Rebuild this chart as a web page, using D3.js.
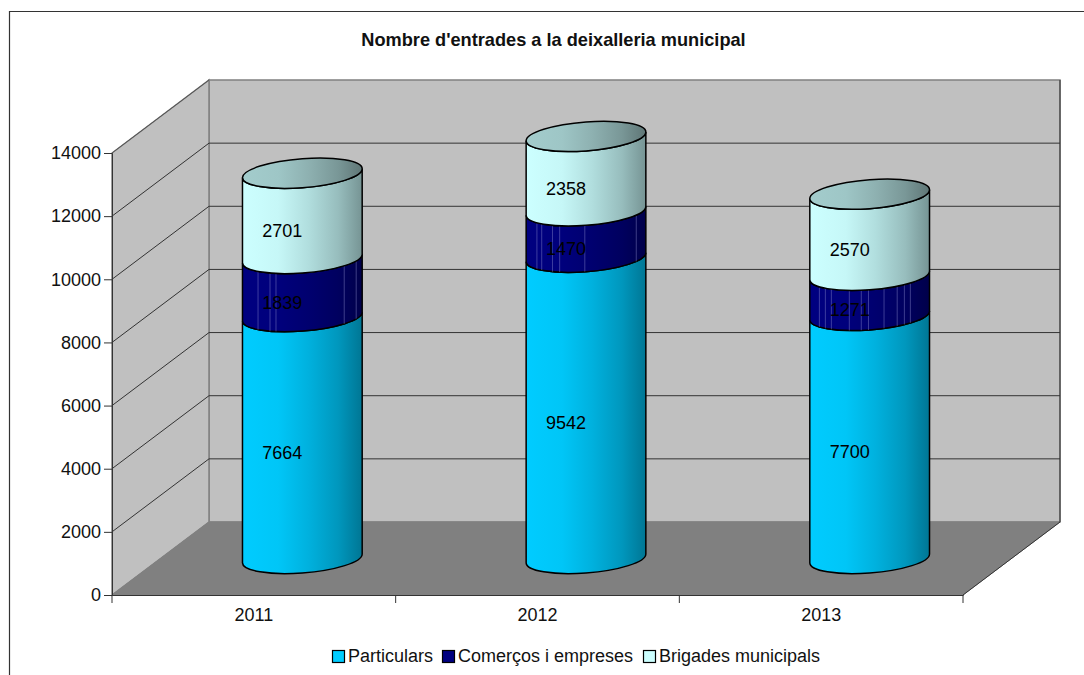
<!DOCTYPE html>
<html>
<head>
<meta charset="utf-8">
<script src="https://cdn.jsdelivr.net/npm/d3@7"></script>
<style>
  html, body { margin: 0; padding: 0; background: #fff; overflow: hidden; }
  svg { display: block; font-family: "Liberation Sans", Arial, sans-serif; }
</style>
</head>
<body>
<svg id="chart" width="1084" height="675"></svg>
<script>
const years = ['2011', '2012', '2013']
const particulars = [7664, 9542, 7700]
const comercos = [1839, 1470, 1271]
const brigades = [2701, 2358, 2570]
const y_ticks = [0, 2000, 4000, 6000, 8000, 10000, 12000, 14000]
const series_names = ['Particulars', 'Comerços i empreses', 'Brigades municipals']
const series_colors = ['#00ccff', '#000080', '#ccffff']
const title = "Nombre d'entrades a la deixalleria municipal"

// light streaks in the navy band of each cylinder, as a share of its width
const streaks = [
  [0.13, 0.23, 0.28, 0.85, 0.95],
  [0.09, 0.13, 0.22, 0.28, 0.49, 0.92],
  [0.08, 0.13, 0.18, 0.33, 0.43, 0.49, 0.62, 0.73, 0.79, 0.84]
]

const svg = d3.select('#chart')
const depth = { x: 97, y: -73 }
const x = d3.scaleBand().domain(years).range([112, 963])
const y = d3.scaleLinear().domain([0, 14000]).range([595, 153])

const rows = years.map((year, i) => ({
  year: year,
  [series_names[0]]: particulars[i],
  [series_names[1]]: comercos[i],
  [series_names[2]]: brigades[i]
}))
const stacked = d3.stack().keys(series_names)(rows)

const shade = function (color, k) {
  const c = d3.rgb(color)
  return d3.rgb(c.r * k, c.g * k, c.b * k).formatHex()
}

const addGradient = function (defs, id, color) {
  const stops = [[0, 1], [0.3, 0.97], [0.55, 0.87], [0.8, 0.74], [1, 0.58]]
  defs.append('linearGradient').attr('id', id)
    .selectAll('stop').data(stops).join('stop')
    .attr('offset', d => d[0])
    .attr('stop-color', d => shade(color, d[1]))
}

const defs = svg.append('defs')
series_colors.forEach((color, i) => addGradient(defs, 'body' + i, color))
addGradient(defs, 'lid', shade('#ccffff', 0.8))

// outer frame, runs off the page on the right and at the bottom
svg.append('path')
  .attr('d', 'M9.5,675V11.5H1084')
  .attr('fill', 'none').attr('stroke', '#333').attr('stroke-width', 1.2)

// walls and floor
const x0 = x.range()[0]
const x1 = x.range()[1]
const y0 = y(0)
const yMax = y(14000)
const poly = d => d3.line()(d) + 'Z'

svg.append('path')
  .attr('d', poly([[x0 + depth.x, y0 + depth.y], [x0 + depth.x, yMax + depth.y], [x1 + depth.x, yMax + depth.y], [x1 + depth.x, y0 + depth.y]]))
  .attr('fill', '#c0c0c0').attr('stroke', '#808080').attr('stroke-width', 1.5)
svg.append('path')
  .attr('d', poly([[x0, y0], [x0, yMax], [x0 + depth.x, yMax + depth.y], [x0 + depth.x, y0 + depth.y]]))
  .attr('fill', '#c0c0c0').attr('stroke', '#808080').attr('stroke-width', 1.5)
svg.append('path')
  .attr('d', poly([[x0, y0], [x1, y0], [x1 + depth.x, y0 + depth.y], [x0 + depth.x, y0 + depth.y]]))
  .attr('fill', '#808080').attr('stroke', '#808080')

// grid on the side wall and the back wall
svg.append('g').selectAll('path').data(y_ticks.slice(1, -1)).join('path')
  .attr('d', d => d3.line()([[x0, y(d)], [x0 + depth.x, y(d) + depth.y], [x1 + depth.x, y(d) + depth.y]]))
  .attr('fill', 'none').attr('stroke', '#333').attr('stroke-width', 1)
svg.append('path')
  .attr('d', d3.line()([[x0, yMax], [x0 + depth.x, yMax + depth.y]]))
  .attr('stroke', '#555').attr('stroke-width', 1)
svg.append('path')
  .attr('d', d3.line()([[x1, y0], [x1 + depth.x, y0 + depth.y], [x1 + depth.x, yMax + depth.y]]))
  .attr('fill', 'none').attr('stroke', '#333').attr('stroke-width', 1)

// axes
const yAxis = svg.append('g')
  .attr('transform', `translate(${x0},0)`)
  .call(d3.axisLeft(y).tickValues(y_ticks).tickFormat(d3.format('d')).tickSize(8).tickPadding(3))
const xAxis = svg.append('g')
  .attr('transform', `translate(0,${y0})`)
  .call(d3.axisBottom(x).tickSize(0).tickPadding(13))
xAxis.selectAll('.tick').select('line').remove()
svg.append('g').selectAll('line').data(years.map(d => x(d)).concat([x1])).join('line')
  .attr('x1', d => d).attr('x2', d => d)
  .attr('y1', y0).attr('y2', y0 + 8)
  .attr('stroke', '#333')
for (const axis of [yAxis, xAxis]) {
  axis.attr('font-family', null).attr('font-size', null)
  axis.selectAll('text').attr('font-size', 18).attr('fill', '#111')
  axis.selectAll('.domain, .tick line').attr('stroke', '#333')
}

// cylinders
const rx = x.bandwidth() * 0.211
const ry = 14.5
const mid = { x: depth.x / 2, y: depth.y / 2 }

const body = function (top, bottom) {
  return `M${-rx},${top}A${rx},${ry} 0 0 0 ${rx},${top}L${rx},${bottom}A${rx},${ry} 0 0 1 ${-rx},${bottom}Z`
}

years.forEach((year, i) => {
  const cx = x(year) + x.bandwidth() / 2 + mid.x
  const g = svg.append('g').attr('transform', `translate(${cx},${mid.y}) skewY(-4.2)`)
  stacked.forEach((layer, s) => {
    const top = y(layer[i][1])
    const bottom = y(layer[i][0])
    g.append('path')
      .attr('d', body(top, bottom))
      .attr('fill', `url(#body${s})`)
      .attr('stroke', '#000').attr('stroke-width', 1.5)
    if (s == 1) {
      defs.append('clipPath').attr('id', 'band' + i)
        .append('path').attr('d', body(top, bottom))
      g.append('g').attr('clip-path', `url(#band${i})`)
        .selectAll('line').data(streaks[i]).join('line')
        .attr('x1', d => -rx + d * rx * 2).attr('x2', d => -rx + d * rx * 2)
        .attr('y1', top - ry).attr('y2', bottom + ry)
        .attr('stroke', '#8f8fd0').attr('stroke-width', 0.7).attr('stroke-opacity', 0.6)
    }
  })
  g.append('ellipse')
    .attr('cx', 0).attr('cy', y(stacked[2][i][1]))
    .attr('rx', rx).attr('ry', ry)
    .attr('fill', 'url(#lid)')
    .attr('stroke', '#000').attr('stroke-width', 1.5)

  // value labels sit on the front of the cylinder, left of its middle
  stacked.forEach(layer => {
    svg.append('text')
      .attr('x', cx - 20)
      .attr('y', y((layer[i][0] + layer[i][1]) / 2) + mid.y + ry + 6.5)
      .attr('text-anchor', 'middle')
      .attr('font-size', 18)
      .attr('fill', '#000')
      .text(layer[i][1] - layer[i][0])
  })
})

// title
svg.append('text')
  .attr('x', 553.5).attr('y', 46)
  .attr('text-anchor', 'middle')
  .attr('font-size', 18.2).attr('font-weight', 'bold').attr('fill', '#111')
  .text(title)

// legend
const legend_x = [332, 442, 643]
const legend = svg.append('g').selectAll('g').data(series_names).join('g')
  .attr('transform', (d, i) => `translate(${legend_x[i]},650)`)
legend.append('rect')
  .attr('x', 0.5).attr('y', 0.5).attr('width', 12).attr('height', 12)
  .attr('fill', (d, i) => series_colors[i])
  .attr('stroke', '#000').attr('stroke-width', 1.2)
legend.append('text')
  .attr('x', 16).attr('y', 12)
  .attr('font-size', 18).attr('fill', '#111')
  .text(d => d)
</script>
</body>
</html>
